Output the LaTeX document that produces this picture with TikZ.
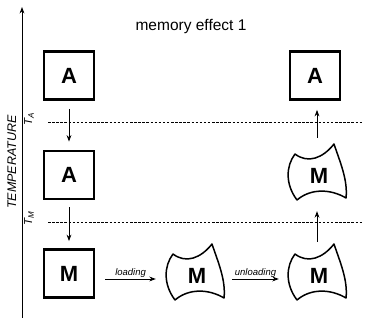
\documentclass[tikz,border=0pt]{standalone}
\usepackage{fontspec}
\setmainfont{Liberation Sans}
\usetikzlibrary{arrows.meta}
\begin{document}
\begin{tikzpicture}[x=1pt,y=-1pt,
  state/.style={draw, line width=2.8pt, minimum width=50pt, minimum height=48pt,
    inner sep=0pt, font=\fontsize{22}{22}\selectfont\bfseries},
  deformed/.style={minimum width=56pt, minimum height=56pt, inner sep=0pt,
    font=\fontsize{22}{22}\selectfont\bfseries},
  arr/.style={-{Stealth[length=6.5pt,width=4.8pt]}, line width=0.8pt},
  level/.style={line width=0.8pt, dash pattern=on 2.5pt off 1.6pt},
  steplabel/.style={font=\fontsize{9.5}{9.5}\selectfont\itshape, inner sep=1pt, above},
  templabel/.style={rotate=90, font=\fontsize{11.5}{11.5}\selectfont\itshape, inner sep=0pt},
]
\useasboundingbox (0,0) rectangle (365,321);

% outline of a deformed martensite grain, drawn around a node
\newcommand\grainoutline[1]{%
  \begin{scope}[shift={(#1)}, yscale=-1, line width=1.5pt, line join=round]
    \draw (-24,22) .. controls (-11,12) and (4,18) .. (15,32)
      .. controls (21,14) and (29,-4) .. (27,-22)
      .. controls (12,-13) and (-8,-12) .. (-22,-24)
      .. controls (-34,-8) and (-33,10) .. cycle;
  \end{scope}}

% temperature axis
\coordinate (axisbot) at (22,318);
\coordinate (axistop) at (22,7);
\draw[arr] (axisbot) -- (axistop);
\node[templabel, font=\fontsize{12.5}{12.5}\selectfont\itshape] (temp) at (12,162) {TEMPERATURE};
\node[templabel] (ta) at (29,119) {T\textsubscript{A}};
\node[templabel] (tm) at (29,218) {T\textsubscript{M}};

% transformation temperatures
\coordinate (taL) at (48,122);
\coordinate (taR) at (362,122);
\coordinate (tmL) at (48,222);
\coordinate (tmR) at (362,222);
\draw[level] (taL) -- (taR);
\draw[level] (tmL) -- (tmR);

\node[font=\fontsize{15.5}{15.5}\selectfont] (title) at (191,27) {memory effect 1};

% states
\node[state] (a1) at (69,75.5) {A};
\node[state] (a2) at (69,175) {A};
\node[state] (m0) at (69,273.5) {M};
\node[state] (a3) at (315,75.5) {A};
\node[deformed] (m1) at (197,276) {M};
\node[deformed] (m2) at (319,276) {M};
\node[deformed] (m3) at (319,176) {M};
\grainoutline{m1}
\grainoutline{m2}
\grainoutline{m3}

% transitions
\draw[arr, shorten <=8pt, shorten >=8pt] (a1) -- (a2);
\draw[arr, shorten <=7pt, shorten >=7pt] (a2) -- (m0);
\draw[arr] ([shift={(10,5.5)}]m0.east) -- node[steplabel] {loading} ([shift={(-13,3)}]m1.west);
\draw[arr] ([shift={(7,3)}]m1.east) -- node[steplabel] {unloading} ([shift={(-12,3)}]m2.west);
\draw[arr] ([shift={(-2,-6)}]m2.north) -- ([shift={(-2,7)}]m3.south);
\draw[arr] ([shift={(-2,-10)}]m3.north) -- ([shift={(2,9)}]a3.south);
\end{tikzpicture}
\end{document}
